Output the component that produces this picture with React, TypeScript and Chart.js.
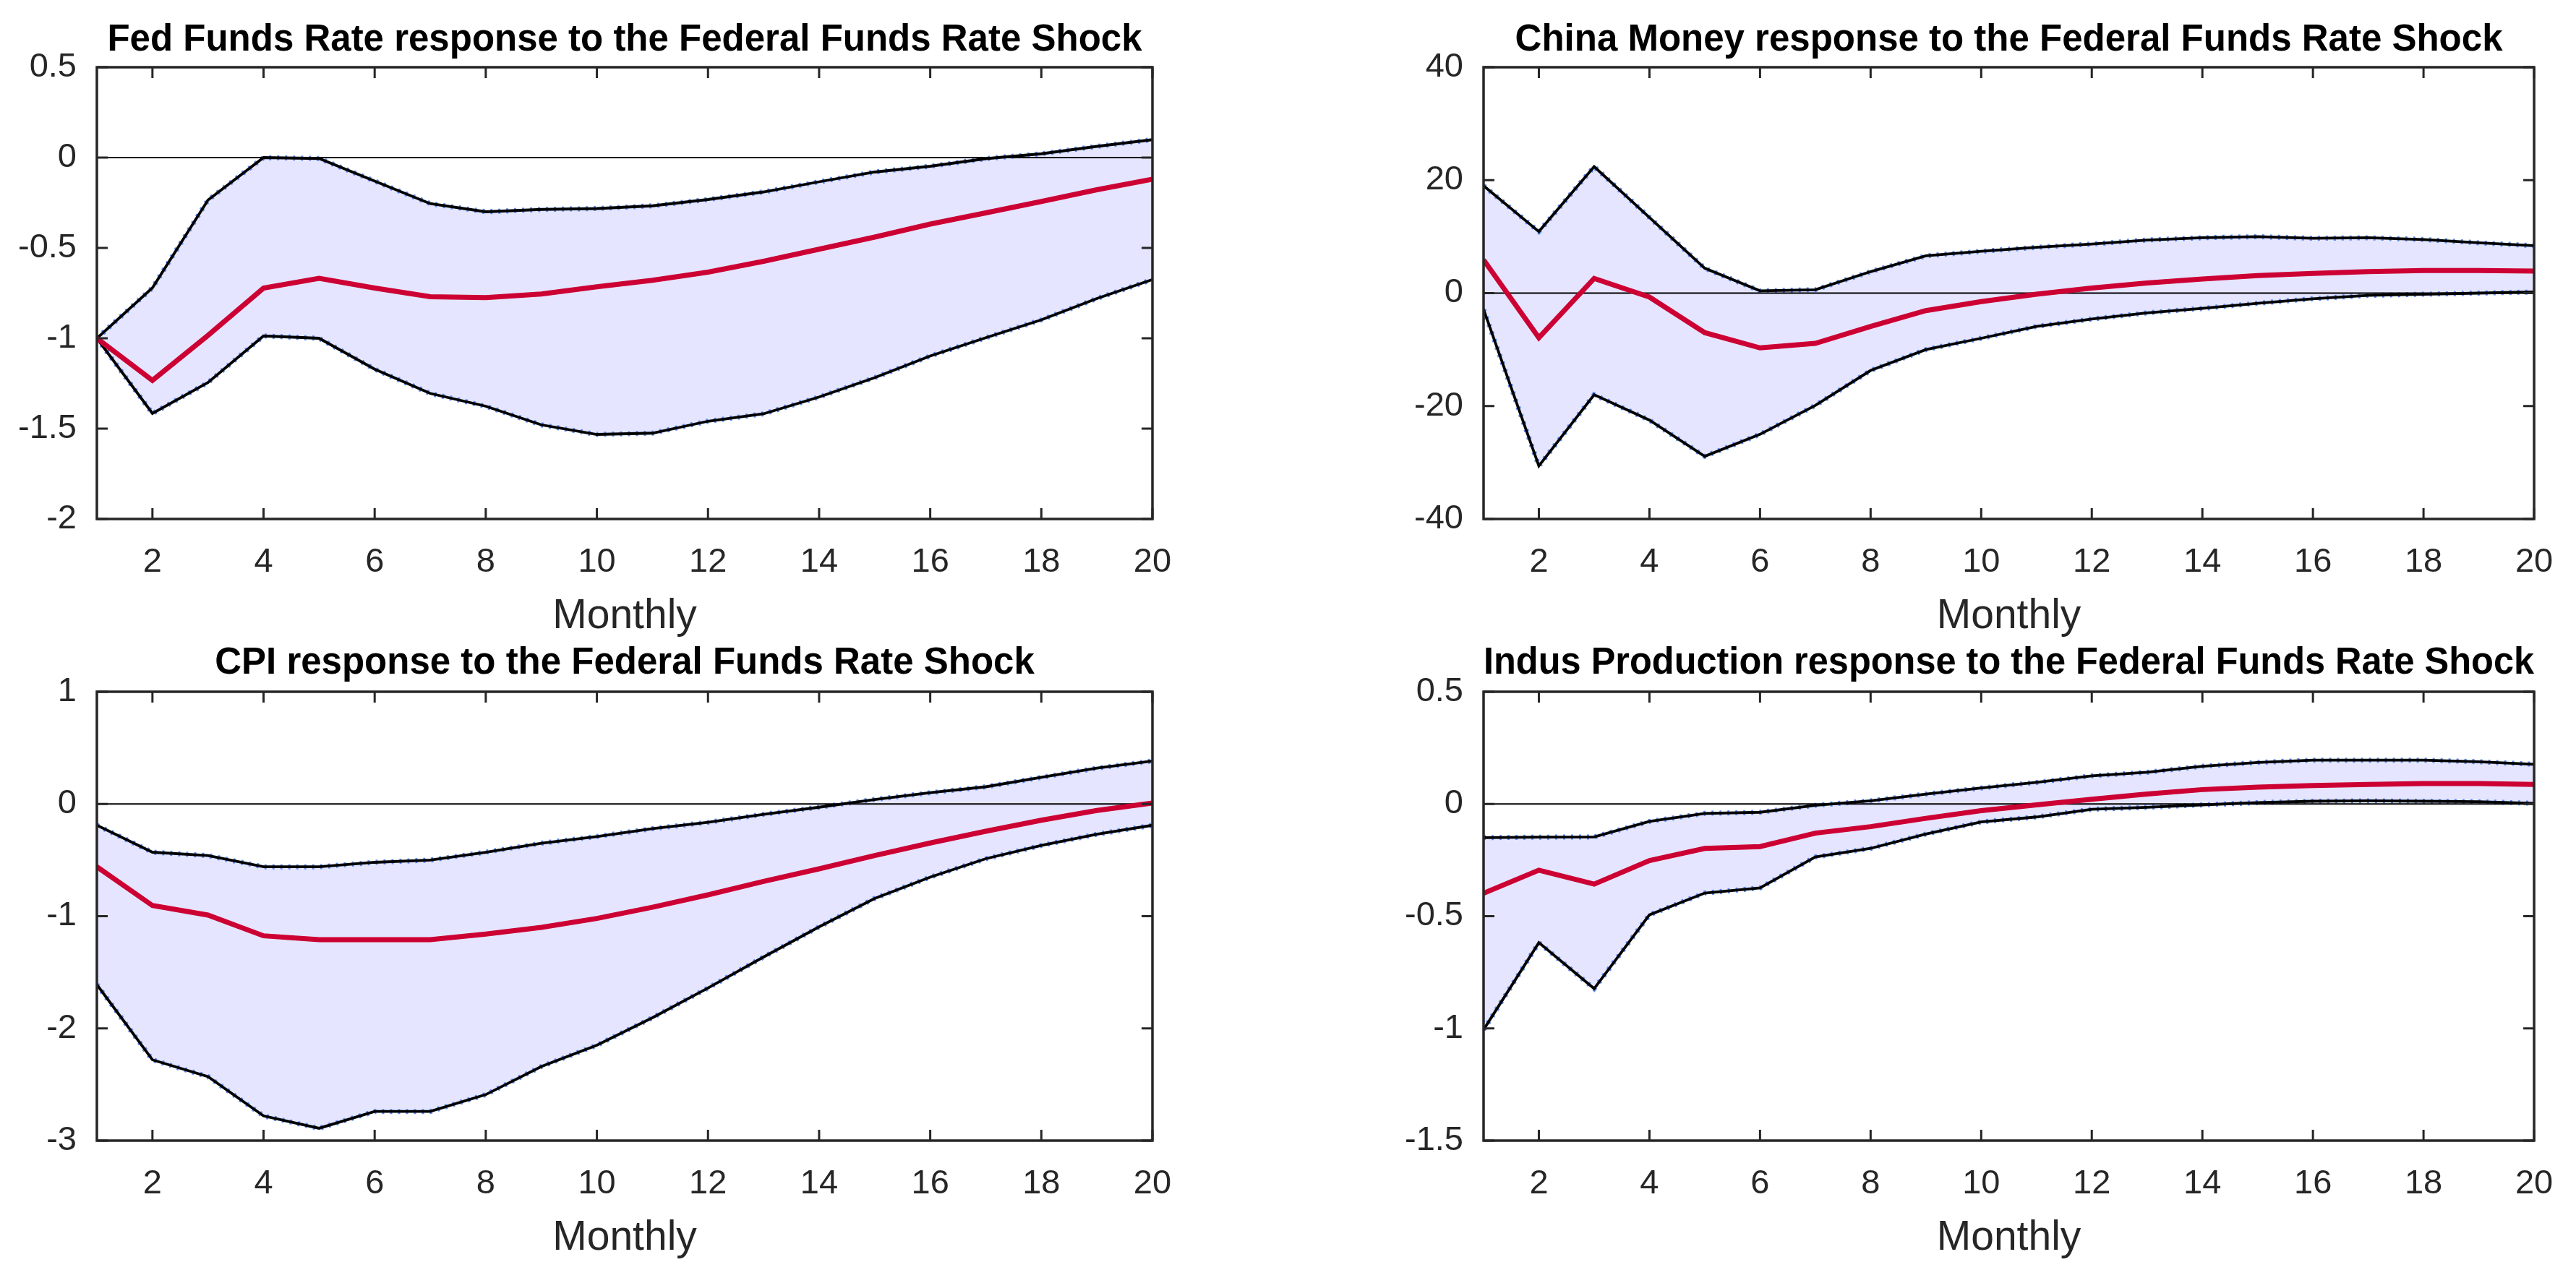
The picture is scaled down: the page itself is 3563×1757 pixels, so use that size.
import React, { useEffect, useRef } from 'react';
import { Chart, registerables } from 'chart.js';

Chart.register(...registerables);

// ---------------- data ----------------
const MONTHS = [1, 2, 3, 4, 5, 6, 7, 8, 9, 10, 11, 12, 13, 14, 15, 16, 17, 18, 19, 20];
const X_TICKS = [2, 4, 6, 8, 10, 12, 14, 16, 18, 20];

const TITLES = [
  'Fed Funds Rate response to the Federal Funds Rate Shock',
  'China Money response to the Federal Funds Rate Shock',
  'CPI response to the Federal Funds Rate Shock',
  'Indus Production response to the Federal Funds Rate Shock',
];
const X_LABEL = 'Monthly';

const FFR_MEDIAN = [-1.0, -1.233, -0.984, -0.722, -0.668, -0.722, -0.77, -0.775, -0.755, -0.715, -0.679, -0.634, -0.574, -0.507, -0.44, -0.368, -0.306, -0.243, -0.178, -0.12];
const FFR_UPPER = [-1.0, -0.721, -0.235, 0.0, -0.005, -0.13, -0.255, -0.3, -0.287, -0.282, -0.267, -0.232, -0.19, -0.134, -0.08, -0.048, -0.006, 0.021, 0.062, 0.099];
const FFR_LOWER = [-1.0, -1.416, -1.245, -0.987, -1.0, -1.171, -1.305, -1.376, -1.479, -1.532, -1.525, -1.459, -1.418, -1.325, -1.218, -1.098, -0.997, -0.898, -0.78, -0.675];
const FFR_Y_TICKS = [-2, -1.5, -1, -0.5, 0, 0.5];

const CHM_MEDIAN = [5.9, -7.9, 2.6, -0.7, -7.0, -9.7, -8.9, -5.9, -3.1, -1.5, -0.2, 0.9, 1.8, 2.5, 3.1, 3.5, 3.8, 4.0, 4.0, 3.9];
const CHM_UPPER = [19.0, 10.9, 22.4, 13.4, 4.4, 0.4, 0.6, 3.8, 6.6, 7.4, 8.1, 8.7, 9.4, 9.8, 10.0, 9.7, 9.8, 9.5, 8.9, 8.4];
const CHM_LOWER = [-2.9, -30.6, -18.0, -22.5, -28.9, -25.0, -19.9, -13.7, -10.0, -8.0, -5.9, -4.6, -3.5, -2.7, -1.8, -1.0, -0.4, -0.2, 0.0, 0.2];
const CHM_Y_TICKS = [-40, -20, 0, 20, 40];

const CPI_MEDIAN = [-0.56, -0.905, -0.99, -1.175, -1.21, -1.21, -1.21, -1.16, -1.1, -1.02, -0.92, -0.81, -0.69, -0.578, -0.46, -0.348, -0.243, -0.145, -0.058, 0.008];
const CPI_UPPER = [-0.19, -0.43, -0.46, -0.56, -0.56, -0.52, -0.5, -0.43, -0.35, -0.29, -0.22, -0.164, -0.092, -0.029, 0.04, 0.1, 0.153, 0.237, 0.319, 0.383];
const CPI_LOWER = [-1.61, -2.28, -2.43, -2.78, -2.89, -2.74, -2.74, -2.59, -2.34, -2.15, -1.905, -1.64, -1.364, -1.095, -0.842, -0.652, -0.488, -0.37, -0.27, -0.19];
const CPI_Y_TICKS = [-3, -2, -1, 0, 1];

const IP_MEDIAN = [-0.398, -0.295, -0.357, -0.252, -0.198, -0.19, -0.13, -0.101, -0.064, -0.03, -0.004, 0.021, 0.044, 0.064, 0.075, 0.082, 0.087, 0.091, 0.091, 0.087];
const IP_UPPER = [-0.15, -0.148, -0.147, -0.078, -0.042, -0.037, -0.006, 0.014, 0.044, 0.071, 0.096, 0.125, 0.141, 0.168, 0.185, 0.195, 0.195, 0.195, 0.188, 0.177];
const IP_LOWER = [-1.006, -0.618, -0.823, -0.494, -0.397, -0.374, -0.236, -0.198, -0.134, -0.08, -0.058, -0.024, -0.015, -0.004, 0.006, 0.012, 0.014, 0.012, 0.01, 0.003];
const IP_Y_TICKS = [-1.5, -1, -0.5, 0, 0.5];

// ---------------- styles / layout ----------------
const FONT = "'Liberation Sans', Arial, Helvetica, sans-serif";
const RED = 'rgb(204, 0, 51)';
const FILL = 'rgb(229, 229, 255)';
const EDGE = 'rgb(90, 140, 240)';
const AXIS = '#262626';
const TICK_LEN = 15;

const COLS = [
  { left: 0, width: 1781, axisW: 134, padR: 187 },
  { left: 1781, width: 1782, axisW: 271, padR: 51 },
];
const ROWS = [
  { top: 0, height: 898, tPadTop: 25.8, tPadBot: 6, xAxisH: 180, lPadBot: 10.8 },
  { top: 878, height: 879, tPadTop: 8.9, tPadBot: 8.9, xAxisH: 179, lPadBot: 9.8 },
];

const PANELS = [
  { title: TITLES[0], median: FFR_MEDIAN, upper: FFR_UPPER, lower: FFR_LOWER, yTicks: FFR_Y_TICKS, col: 0, row: 0 },
  { title: TITLES[1], median: CHM_MEDIAN, upper: CHM_UPPER, lower: CHM_LOWER, yTicks: CHM_Y_TICKS, col: 1, row: 0 },
  { title: TITLES[2], median: CPI_MEDIAN, upper: CPI_UPPER, lower: CPI_LOWER, yTicks: CPI_Y_TICKS, col: 0, row: 1 },
  { title: TITLES[3], median: IP_MEDIAN, upper: IP_UPPER, lower: IP_LOWER, yTicks: IP_Y_TICKS, col: 1, row: 1 },
];

const boxPlugin = {
  id: 'matlabBox',
  afterDatasetsDraw(chart: any) {
    const { ctx, chartArea: a, scales } = chart;
    const xs = scales.x;
    const ys = scales.y;
    ctx.save();
    ctx.strokeStyle = AXIS;
    ctx.lineWidth = 3;
    ctx.beginPath();
    xs.ticks.forEach((t: any) => {
      const px = xs.getPixelForValue(t.value);
      ctx.moveTo(px, a.bottom);
      ctx.lineTo(px, a.bottom - TICK_LEN);
      ctx.moveTo(px, a.top);
      ctx.lineTo(px, a.top + TICK_LEN);
    });
    ys.ticks.forEach((t: any) => {
      const py = ys.getPixelForValue(t.value);
      ctx.moveTo(a.left, py);
      ctx.lineTo(a.left + TICK_LEN, py);
      ctx.moveTo(a.right, py);
      ctx.lineTo(a.right - TICK_LEN, py);
    });
    ctx.stroke();
    ctx.lineWidth = 3.5;
    ctx.strokeRect(a.left, a.top, a.right - a.left, a.bottom - a.top);
    ctx.restore();
  },
};

function Panel({ p }: { p: (typeof PANELS)[number] }) {
  const ref = useRef<HTMLCanvasElement>(null);
  const col = COLS[p.col];
  const row = ROWS[p.row];

  useEffect(() => {
    const canvas = ref.current;
    if (!canvas) return;
    const pts = (arr: number[]) => MONTHS.map((m, i) => ({ x: m, y: arr[i] }));
    const zero = [
      { x: MONTHS[0], y: 0 },
      { x: MONTHS[MONTHS.length - 1], y: 0 },
    ];
    const line = { pointRadius: 0, tension: 0, fill: false, borderJoinStyle: 'miter' };
    const chart = new Chart(canvas, {
      type: 'line',
      data: {
        datasets: [
          { ...line, label: 'median', data: pts(p.median), borderColor: RED, borderWidth: 7, order: 0 },
          { ...line, label: 'upper', data: pts(p.upper), borderColor: '#000', borderWidth: 3.8, order: 1, fill: 2, backgroundColor: FILL },
          { ...line, label: 'lower', data: pts(p.lower), borderColor: '#000', borderWidth: 3.8, order: 1 },
          { ...line, label: 'zero', data: zero, borderColor: '#000', borderWidth: 2, order: 2 },
          { ...line, label: 'upperEdge', data: pts(p.upper), borderColor: EDGE, borderWidth: 7, borderDash: [3, 8], order: 3 },
          { ...line, label: 'lowerEdge', data: pts(p.lower), borderColor: EDGE, borderWidth: 7, borderDash: [3, 8], order: 3 },
        ] as any,
      },
      options: {
        responsive: false,
        animation: false,
        layout: { padding: { left: 0, right: col.padR, top: 0, bottom: 0 } },
        plugins: {
          legend: { display: false },
          tooltip: { enabled: false },
          filler: { drawTime: 'beforeDatasetsDraw' },
          title: {
            display: true,
            text: p.title,
            fullSize: false,
            color: '#000',
            font: { family: FONT, size: 51, weight: 'bold', lineHeight: 1.2 },
            padding: { top: row.tPadTop, bottom: row.tPadBot },
          },
        } as any,
        scales: {
          x: {
            type: 'linear',
            min: MONTHS[0],
            max: MONTHS[MONTHS.length - 1],
            afterBuildTicks: (s: any) => {
              s.ticks = X_TICKS.map((v) => ({ value: v }));
            },
            afterFit: (s: any) => {
              s.height = row.xAxisH;
            },
            grid: { display: false, drawTicks: false },
            border: { display: false },
            ticks: {
              autoSkip: false,
              maxRotation: 0,
              minRotation: 0,
              padding: 31.8,
              color: AXIS,
              font: { family: FONT, size: 47, lineHeight: 1.2 },
              callback: (v: any) => String(v),
            },
            title: {
              display: true,
              text: X_LABEL,
              color: AXIS,
              font: { family: FONT, size: 57, lineHeight: 1.2 },
              padding: { top: 0, bottom: row.lPadBot },
            },
          },
          y: {
            type: 'linear',
            min: p.yTicks[0],
            max: p.yTicks[p.yTicks.length - 1],
            afterBuildTicks: (s: any) => {
              s.ticks = p.yTicks.map((v) => ({ value: v }));
            },
            afterFit: (s: any) => {
              s.width = col.axisW;
            },
            grid: { display: false, drawTicks: false },
            border: { display: false },
            ticks: {
              autoSkip: false,
              padding: 28,
              color: AXIS,
              font: { family: FONT, size: 47, lineHeight: 1.2 },
              callback: (v: any) => String(v),
            },
          },
        } as any,
      },
      plugins: [boxPlugin],
    });
    return () => chart.destroy();
  }, []);

  return (
    <canvas
      ref={ref}
      width={col.width}
      height={row.height}
      style={{
        position: 'absolute',
        left: col.left,
        top: row.top,
        width: col.width,
        height: row.height,
      }}
    />
  );
}

export default function App() {
  return (
    <div
      style={{
        position: 'fixed',
        left: 0,
        top: 0,
        width: 3563,
        height: 1757,
        background: '#fff',
        overflow: 'hidden',
      }}
    >
      {PANELS.map((p, i) => (
        <Panel key={i} p={p} />
      ))}
    </div>
  );
}
